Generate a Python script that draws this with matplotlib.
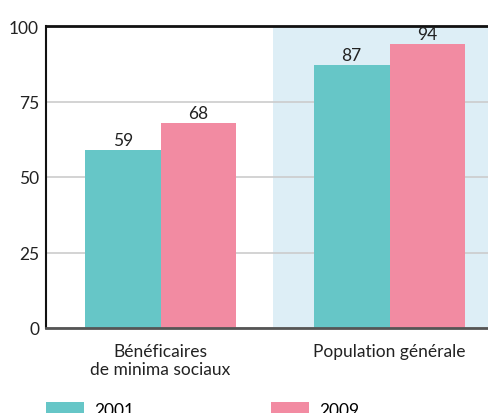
import matplotlib
matplotlib.use("Agg")
import matplotlib.pyplot as plt
import numpy as np

categories = ["Bénéficaires\nde minima sociaux", "Population générale"]
series_names = ["2001", "2009"]
values_2001 = [59, 87]
values_2009 = [68, 94]
yticks = [0, 25, 50, 75, 100]

teal = "#66C6C7"
pink = "#F28BA2"
shade = "#DDEEF6"
fs = 12.5

plt.rcParams['font.family'] = ['Lato', 'DejaVu Sans']
fig = plt.figure(figsize=(4.88, 4.14), dpi=100)
ax = fig.add_axes([46/488, 1-329/414, 1-46/488, (329-27)/414])

x = np.arange(len(categories))
w = 0.33
ax.axvspan(0.49, 2, color=shade, zorder=0, lw=0)
b1 = ax.bar(x - w/2, values_2001, w, color=teal, zorder=2, label=series_names[0])
b2 = ax.bar(x + w/2, values_2009, w, color=pink, zorder=2, label=series_names[1])
for bars, vals in ((b1, values_2001), (b2, values_2009)):
    for r, v in zip(bars, vals):
        ax.text(r.get_x() + r.get_width()/2, v + 0.6, str(v), ha="center", va="bottom",
                fontsize=fs, color="#222222", zorder=3)

ax.set_xlim(-0.5, 1.43)
ax.set_ylim(0, 100)
ax.set_yticks(yticks)
ax.set_yticklabels([str(t) for t in yticks], fontsize=fs, color="#222222")
ax.yaxis.grid(True, color="#cccccc", lw=1.2, zorder=1)
ax.tick_params(axis="both", length=0)
ax.tick_params(axis="y", pad=5)
ax.set_xticks(x)
ax.set_xticklabels(categories, fontsize=fs, color="#222222", linespacing=1.15)
ax.tick_params(axis="x", pad=11)
ax.spines["right"].set_visible(False)
ax.spines["top"].set_color("#111111")
ax.spines["top"].set_linewidth(2)
ax.spines["left"].set_color("#111111")
ax.spines["left"].set_linewidth(1.5)
ax.spines["bottom"].set_color("#555555")
ax.spines["bottom"].set_linewidth(2)

leg = fig.legend(handles=[b1, b2], labels=series_names, loc="upper left",
                 bbox_to_anchor=(46/488, 1-403/414), ncol=2, frameon=False,
                 fontsize=fs, handlelength=2.2, handleheight=0.9, handletextpad=0.6,
                 columnspacing=7.85, borderpad=0, borderaxespad=0)

fig.savefig("out.png", dpi=100)
